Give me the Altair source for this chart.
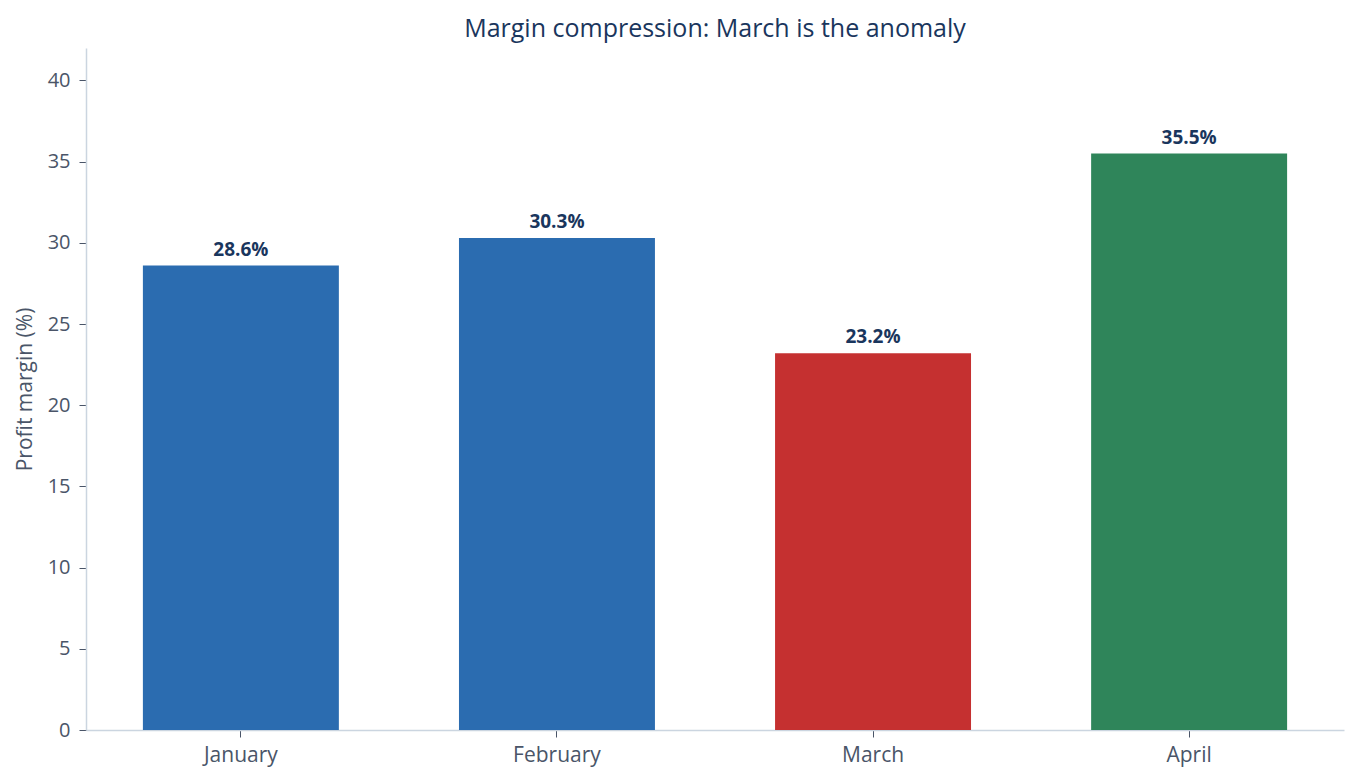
import altair as alt
import pandas as pd

months = ["January", "February", "March", "April"]
margins = [28.6, 30.3, 23.2, 35.5]
bar_colors = ["#2b6cb0", "#2b6cb0", "#c53030", "#2f855a"]
labels = ["28.6%", "30.3%", "23.2%", "35.5%"]

df = pd.DataFrame({"month": months, "margin": margins, "color": bar_colors, "label": labels})

FONT = "Open Sans"

x = alt.X("month:N", sort=months, title=None,
          scale=alt.Scale(paddingInner=0.38, paddingOuter=0.18),
          axis=alt.Axis(labelAngle=0, labelFontSize=21, labelColor="#4a5568",
                        labelPadding=7, tickColor="#4a5568", tickSize=7,
                        domainColor="#cbd5e0", domainWidth=1.5, labelFont=FONT))
y = alt.Y("margin:Q", title="Profit margin (%)",
          scale=alt.Scale(domain=[0, 42], nice=False),
          axis=alt.Axis(values=[0, 5, 10, 15, 20, 25, 30, 35, 40], grid=False,
                        labelFontSize=20, labelColor="#4a5568", tickColor="#4a5568",
                        tickSize=7, labelPadding=9, domainColor="#cbd5e0", domainWidth=1.5,
                        titleFontSize=21, titleFontWeight="normal", titleColor="#4a5568",
                        titlePadding=12, labelFont=FONT, titleFont=FONT))

bars = alt.Chart(df).mark_bar().encode(
    x=x, y=y, color=alt.Color("color:N", scale=None)
)
text = alt.Chart(df).mark_text(baseline="bottom", dy=-6, fontSize=19, fontWeight="bold",
                               color="#1a365d", font=FONT).encode(
    x=alt.X("month:N", sort=months), y="margin:Q", text="label:N"
)

chart = (bars + text).properties(
    width=1258, height=682,
    title=alt.TitleParams("Margin compression: March is the anomaly", fontSize=25,
                          fontWeight="normal", color="#1a365d", font=FONT, offset=6),
    autosize=alt.AutoSizeParams(type="none"),
    padding={"left": 78, "top": 40, "right": 8, "bottom": 45},
).configure_view(stroke=None)

chart.save("out.html", embed_options={"renderer": "svg", "actions": False})
